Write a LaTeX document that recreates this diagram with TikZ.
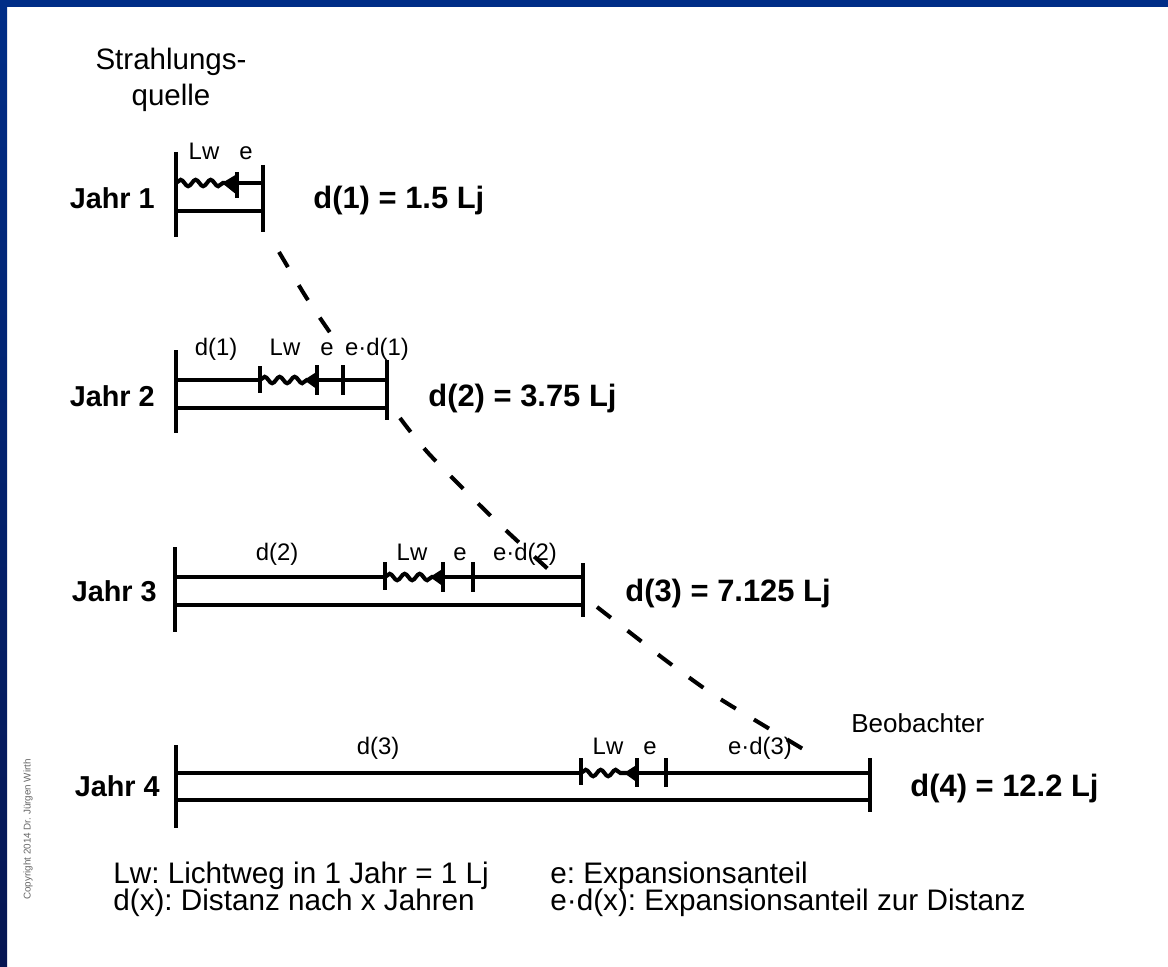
\documentclass[tikz,border=0pt]{standalone}
\usepackage{fontspec}
\setmainfont{Liberation Sans}
\usetikzlibrary{decorations.pathmorphing}
\definecolor{frameblue}{RGB}{0,45,135}
\definecolor{framedark}{RGB}{6,22,82}
\frenchspacing
\begin{document}
\begin{tikzpicture}[x=0.02cm,y=-0.02cm,
  barv/.style={line width=2.8pt},
  hline/.style={line width=2pt},
  tickv/.style={line width=2.3pt},
  wave/.style={line width=2.3pt, decorate, decoration={snake, segment length=0.3cm, amplitude=0.065cm}},
  headfill/.style={fill=black},
  lbl/.style={font=\fontsize{13.6}{16}\selectfont, anchor=base, inner sep=0},
  jahr/.style={font=\bfseries\fontsize{16.4}{19}\selectfont, anchor=base east, inner sep=0},
  dist/.style={font=\bfseries\fontsize{17.6}{20}\selectfont, anchor=base west, inner sep=0},
  plain/.style={font=\fontsize{16.8}{20.5}\selectfont, inner sep=0},
  legend/.style={font=\fontsize{16.9}{19.5}\selectfont, anchor=base west, inner sep=0},
  dashline/.style={line width=2.3pt, dash pattern=on 10pt off 12pt}
]
\useasboundingbox (0,0) rectangle (1168,966);
\fill[white] (0,0) rectangle (1168,966);
\shade[top color=frameblue, bottom color=framedark] (0,0) rectangle (7,966);
\fill[frameblue] (0,0) rectangle (1168,7);

% copyright
\node[rotate=90, anchor=west, inner sep=0, text=black!60, font=\fontsize{5.6}{7}\selectfont] (copy) at (28,900) {Copyright 2014 Dr. Jürgen Wirth};

% source label
\node[plain, align=center, anchor=base] (src) at (171,106) {Strahlungs-\\quelle};

% ---------- Jahr 1 ----------
\draw[barv] (176,152) -- (176,237);
\draw[barv] (263,165) -- (263,232);
\draw[wave] (176,183) -- (225,183);
\fill[headfill] (222,183) -- (237,174) -- (237,195) -- cycle;
\draw[tickv] (237,172) -- (237,198);
\draw[hline] (237,183) -- (263,183);
\draw[hline] (176,211) -- (263,211);
\node[lbl] (lw1) at (204,160) {Lw};
\node[lbl] (e1) at (246,160) {e};
\node[jahr] (j1) at (155,208) {Jahr 1};
\node[dist] (d1) at (313,208) {d(1) = 1.5 Lj};

% ---------- Jahr 2 ----------
\draw[barv] (176,350) -- (176,433);
\draw[barv] (387,360) -- (387,420);
\draw[hline] (176,380) -- (260,380);
\draw[wave] (260,380) -- (307,380);
\fill[headfill] (304,380) -- (318,371) -- (318,390) -- cycle;
\draw[hline] (317,380) -- (387,380);
\draw[tickv] (260,366) -- (260,393);
\draw[tickv] (317,365) -- (317,395);
\draw[tickv] (343,365) -- (343,395);
\draw[hline] (176,408) -- (387,408);
\node[lbl] (dd1) at (216,355) {d(1)};
\node[lbl] (lw2) at (285,355) {Lw};
\node[lbl] (e2) at (327,355) {e};
\node[lbl] (ed1) at (377,355) {e·d(1)};
\node[jahr] (j2) at (155,406) {Jahr 2};
\node[dist] (d2) at (428,406) {d(2) = 3.75 Lj};

% ---------- Jahr 3 ----------
\draw[barv] (175,547) -- (175,632);
\draw[barv] (583,563) -- (583,617);
\draw[hline] (175,577) -- (385,577);
\draw[wave] (385,577) -- (433,577);
\fill[headfill] (430,577) -- (444,568) -- (444,587) -- cycle;
\draw[hline] (443,577) -- (583,577);
\draw[tickv] (385,562) -- (385,590);
\draw[tickv] (443,562) -- (443,592);
\draw[tickv] (473,562) -- (473,592);
\draw[hline] (175,605) -- (583,605);
\node[lbl] (dd2) at (277,560) {d(2)};
\node[lbl] (lw3) at (412,560) {Lw};
\node[lbl] (e3) at (460,560) {e};
\node[lbl] (ed2) at (525,560) {e·d(2)};
\node[jahr] (j3) at (157,601) {Jahr 3};
\node[dist] (d3) at (625,601) {d(3) = 7.125 Lj};

% ---------- Jahr 4 ----------
\draw[barv] (176,745) -- (176,828);
\draw[barv] (870,758) -- (870,812);
\draw[hline] (176,773) -- (581,773);
\draw[wave] (581,773) -- (627,773);
\fill[headfill] (624,773) -- (638,764) -- (638,783) -- cycle;
\draw[hline] (637,773) -- (870,773);
\draw[tickv] (581,758) -- (581,785);
\draw[tickv] (637,758) -- (637,787);
\draw[tickv] (666,758) -- (666,787);
\draw[hline] (176,800) -- (870,800);
\node[lbl] (dd3) at (378,754) {d(3)};
\node[lbl] (lw4) at (608,754) {Lw};
\node[lbl] (e4) at (650,754) {e};
\node[lbl] (ed3) at (760,754) {e·d(3)};
\node[jahr] (j4) at (160,796) {Jahr 4};
\node[dist] (d4) at (910,796) {d(4) = 12.2 Lj};
\node[plain, anchor=base west, font=\fontsize{14.8}{17}\selectfont] (obs) at (851,732) {Beobachter};

% ---------- dashed light path ----------
\coordinate (p1) at (279,252);
\coordinate (p2) at (306,297);
\coordinate (p3) at (331,334);
\coordinate (p4) at (400,418);
\coordinate (p5) at (430,455);
\coordinate (p6) at (495,520);
\coordinate (p7) at (548,569);
\coordinate (p8) at (597,607);
\coordinate (p9) at (637,638);
\coordinate (p10) at (668,662);
\coordinate (p11) at (714,695);
\coordinate (p12) at (768,728);
\coordinate (p13) at (808,752);
\draw[dashline] plot[smooth] coordinates {(p1) (p2) (p3)};
\draw[dashline] plot[smooth] coordinates {(p4) (p5) (p6) (p7)};
\draw[dashline] plot[smooth] coordinates {(p8) (p9) (p10) (p11) (p12) (p13)};

% ---------- legend ----------
\node[legend] (l1) at (113,883) {Lw: Lichtweg in 1 Jahr = 1 Lj};
\node[legend] (l2) at (113,910) {d(x): Distanz nach x Jahren};
\node[legend] (l3) at (550,883) {e: Expansionsanteil};
\node[legend] (l4) at (550,910) {e·d(x): Expansionsanteil zur Distanz};
\end{tikzpicture}
\end{document}
